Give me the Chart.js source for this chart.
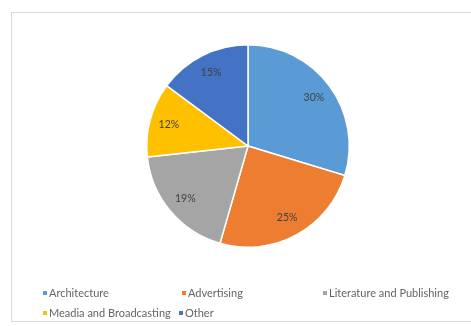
<!DOCTYPE html>
<html>
<head>
<meta charset="utf-8">
<script src="https://cdn.jsdelivr.net/npm/chart.js@4"></script>
<style>
  html, body { margin: 0; padding: 0; background: #fff; }
  #wrap { position: relative; width: 471px; height: 326px; }
  #frame { position: absolute; left: 11px; top: 12px; width: 470px; height: 310px;
           border: 1px solid #d9d9d9; box-sizing: border-box; }
  canvas { position: absolute; left: 0; top: 0; }
</style>
</head>
<body>
<div id="wrap">
  <div id="frame"></div>
  <canvas id="pieChart" width="471" height="326"></canvas>
</div>
<script>
// Parts du secteur
const categories = ['Architecture', 'Advertising', 'Literature and Publishing', 'Meadia and Broadcasting', 'Other'];
const shares = [30, 25, 19, 12, 15];
const sliceColors = ['#5b9bd5', '#ed7d31', '#a5a5a5', '#ffc000', '#4472c4'];

const FONT = 'Lato, "Liberation Sans", sans-serif';

// Pourcentages écrits dans chaque part
const sliceLabels = {
    id: 'sliceLabels',
    afterDatasetsDraw(chart) {
        const ctx = chart.ctx;
        const meta = chart.getDatasetMeta(0);
        ctx.save();
        ctx.font = '10.5px ' + FONT;
        ctx.fillStyle = '#404040';
        ctx.textAlign = 'center';
        ctx.textBaseline = 'middle';
        meta.data.forEach((arc, i) => {
            const mid = (arc.startAngle + arc.endAngle) / 2;
            const r = arc.outerRadius * 0.81;
            ctx.fillText(shares[i] + '%', arc.x + Math.cos(mid) * r, arc.y + Math.sin(mid) * r);
        });
        ctx.restore();
    }
};

// Légende en bas, sur deux lignes
const bottomLegend = {
    id: 'bottomLegend',
    afterDraw(chart) {
        const ctx = chart.ctx;
        const slots = [[45, 293], [184, 293], [325, 293], [45, 313], [181, 313]];
        ctx.save();
        ctx.font = '11px ' + FONT;
        ctx.textBaseline = 'middle';
        categories.forEach((name, i) => {
            const [x, y] = slots[i];
            ctx.fillStyle = sliceColors[i];
            ctx.fillRect(x - 2, y - 2, 4, 4);
            ctx.fillStyle = '#646464';
            ctx.fillText(name, x + 4, y);
        });
        ctx.restore();
    }
};

document.addEventListener('DOMContentLoaded', function() {
    new Chart(document.getElementById('pieChart'), {
        type: 'pie',
        data: {
            labels: categories,
            datasets: [{
                data: shares,
                backgroundColor: sliceColors,
                borderColor: '#ffffff',
                borderWidth: 1.5
            }]
        },
        options: {
            responsive: false,
            animation: false,
            layout: { padding: { left: 146, right: 121, top: 44, bottom: 78 } },
            plugins: {
                legend: { display: false },
                tooltip: { enabled: false }
            }
        },
        plugins: [sliceLabels, bottomLegend]
    });
});
</script>
</body>
</html>
